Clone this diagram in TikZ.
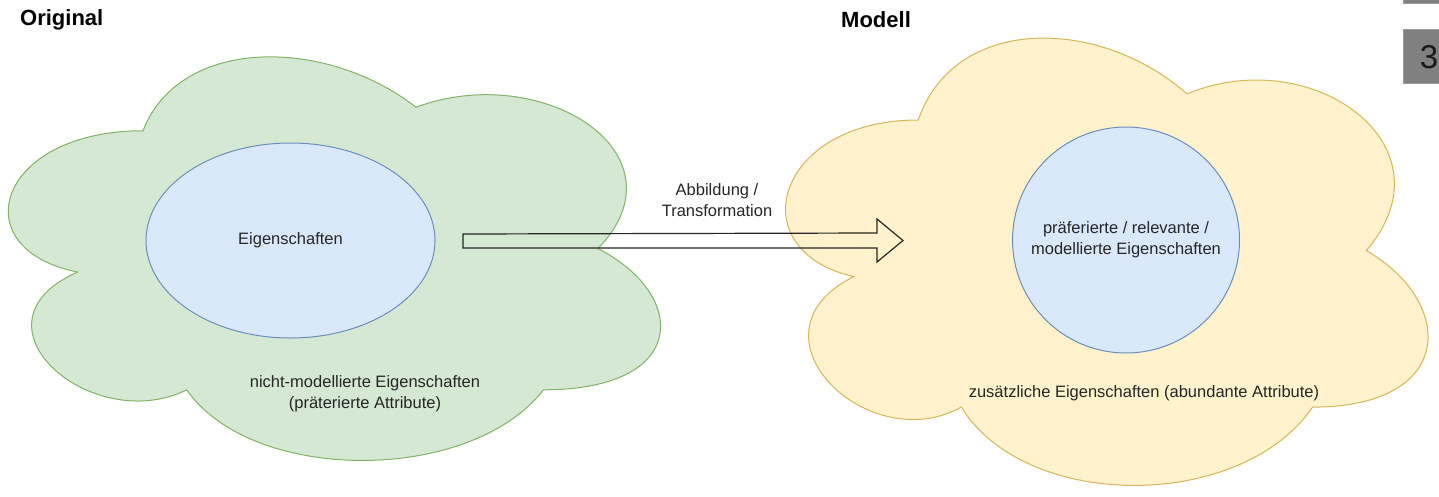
\documentclass[tikz,border=0pt]{standalone}
\usepackage{fontspec}
\setmainfont{Liberation Sans}
\usetikzlibrary{shapes.geometric,calc}
\definecolor{gfill}{HTML}{D5E8D4}
\definecolor{gline}{HTML}{82B366}
\definecolor{yfill}{HTML}{FFF2CC}
\definecolor{yline}{HTML}{D6B656}
\definecolor{bfill}{HTML}{DAE8FC}
\definecolor{bline}{HTML}{6C8EBF}
\definecolor{boxgray}{HTML}{808080}
\definecolor{boxline}{HTML}{999999}
\newcommand{\cloudshape}{(0.25,0.25) .. controls (0.05,0.25) and (0,0.5) .. (0.16,0.55)
 .. controls (0,0.66) and (0.18,0.9) .. (0.31,0.8)
 .. controls (0.4,1) and (0.7,1) .. (0.8,0.8)
 .. controls (1,0.8) and (1,0.6) .. (0.875,0.5)
 .. controls (1,0.3) and (0.8,0.1) .. (0.625,0.2)
 .. controls (0.5,0.05) and (0.3,0.05) .. (0.25,0.25) -- cycle}
\tikzset{
  txt/.style={font=\fontsize{16.5}{21}\selectfont, align=center, text=black!85, inner sep=0},
  title/.style={font=\fontsize{22}{25}\selectfont\bfseries, anchor=west, inner sep=0},
  greencloud/.style={fill=gfill, draw=gline, line width=1pt},
  yellowcloud/.style={fill=yfill, draw=yline, line width=1pt},
  blueell/.style={ellipse, fill=bfill, draw=bline, line width=1pt, inner sep=0},
  blockarrow/.style={draw=black!85, line width=1.2pt, line join=miter},
  numbox/.style={fill=boxgray, draw=boxline, line width=0.8pt}
}
\begin{document}
\begin{tikzpicture}[x=1pt,y=-1pt]
\useasboundingbox (0,0) rectangle (1439,496);
\clip (0,0) rectangle (1439,496);
% clouds
\begin{scope}[shift={(-39,13)}, xscale=728, yscale=471]
  \path[greencloud] \cloudshape;
\end{scope}
\begin{scope}[shift={(739,-10.5)}, xscale=717, yscale=522]
  \path[yellowcloud] \cloudshape;
\end{scope}
% titles
\node[title] (torig) at (20,20) {Original};
\node[title] (tmod) at (841,20) {Modell};
% inner ellipses
\node[blueell, minimum width=289pt, minimum height=195pt,
      label={[txt]center:Eigenschaften}] (eig) at (290.5,240.5) {};
\node[blueell, minimum width=227pt, minimum height=226pt,
      label={[txt]center:{präferierte / relevante /\\modellierte Eigenschaften}}] (pref) at (1126,240) {};
% cloud labels
\node[txt] (nicht) at (365,394) {nicht-modellierte Eigenschaften\\(präterierte Attribute)};
\node[txt] (zus) at (1144,393) {zusätzliche Eigenschaften (abundante Attribute)};
% arrow
\coordinate (aS) at (463,241);
\coordinate (aE) at (903,240.5);
\draw[blockarrow] ($(aS)+(0,-7)$) -- ($(aE)+(-26,-7.5)$) -- ($(aE)+(-26,-21.5)$) -- (aE)
   -- ($(aE)+(-26,21.5)$) -- ($(aE)+(-26,7.5)$) -- ($(aS)+(0,7)$) -- cycle;
\node[txt] (abb) at (717,200.5) {Abbildung /\\Transformation};
% page number boxes at right edge
\path[numbox] (1403,-10) rectangle (1450,3);
\node[numbox, anchor=north west, minimum width=47pt, minimum height=54pt, inner sep=0] (pbox) at (1403,29) {};
\node[font=\fontsize{33}{33}\selectfont, text=black!90, inner sep=0] (pnum) at (1429,57) {3};
\end{tikzpicture}
\end{document}
